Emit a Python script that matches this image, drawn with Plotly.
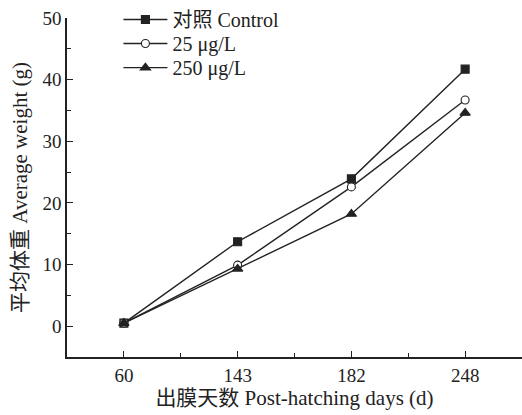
import plotly.graph_objects as go

days = ["60", "143", "182", "248"]
control = [0.5, 13.7, 23.9, 41.7]
conc_25 = [0.5, 9.9, 22.6, 36.7]
conc_250 = [0.5, 9.3, 18.2, 34.6]

series_names = ["对照 Control", "25 μg/L", "250 μg/L"]
symbols = ["square", "circle", "triangle-up"]
fills = ["#222222", "white", "#222222"]
legend_ids = ["legend", "legend2", "legend3"]
legend_rows = [0.997, 0.922, 0.851]

FONT = "Liberation Serif, Times New Roman, Noto Sans CJK SC, serif"
INK = "#222222"

x_idx = list(range(len(days)))

fig = go.Figure()
for name, vals, sym, fc, lg in zip(series_names, [control, conc_25, conc_250],
                                   symbols, fills, legend_ids):
    fig.add_trace(go.Scatter(
        x=x_idx, y=vals, name=name, mode="lines+markers", legend=lg,
        line=dict(color=INK, width=1.4),
        marker=dict(symbol=sym, size=8 if sym != "triangle-up" else 9, color=fc,
                    line=dict(color=INK, width=1.1)),
    ))

legend_common = dict(x=0.113, xanchor="left", yanchor="middle",
                     bgcolor="rgba(0,0,0,0)", font=dict(size=20),
                     borderwidth=0, itemwidth=44)

fig.update_layout(
    width=522, height=415,
    margin=dict(l=67, r=0, t=17, b=58),
    paper_bgcolor="white", plot_bgcolor="white",
    font=dict(family=FONT, size=19, color=INK),
    showlegend=True,
    legend=dict(y=legend_rows[0], **legend_common),
    legend2=dict(y=legend_rows[1], **legend_common),
    legend3=dict(y=legend_rows[2], **legend_common),
)

fig.update_xaxes(
    range=[-0.5, 3.5], tickmode="array", tickvals=x_idx, ticktext=days,
    showline=True, linecolor=INK, linewidth=1.5, mirror=False,
    ticks="inside", ticklen=6, tickcolor=INK, tickwidth=1.2,
    ticklabelstandoff=0, automargin=False,
    minor=dict(tickmode="array", tickvals=[0.5, 1.5, 2.5], ticks="inside",
               ticklen=4, tickcolor=INK, tickwidth=1.2),
    showgrid=False, zeroline=False,
    title=dict(text="出膜天数 Post-hatching days (d)", standoff=2,
               font=dict(size=21)),
)
fig.update_yaxes(
    range=[-5, 50], tickmode="array", tickvals=[0, 10, 20, 30, 40, 50],
    showline=True, linecolor=INK, linewidth=1.5, mirror=False,
    ticks="inside", ticklen=6, tickcolor=INK, tickwidth=1.2,
    automargin=False,
    minor=dict(tickmode="array", tickvals=[5, 15, 25, 35, 45], ticks="inside",
               ticklen=4, tickcolor=INK, tickwidth=1.2),
    showgrid=False, zeroline=False,
    title=dict(text="平均体重 Average weight (g)", standoff=9,
               font=dict(size=21)),
)

fig.write_html("out.html", config={"displayModeBar": False},
               post_script="document.body.style.margin='0';")
